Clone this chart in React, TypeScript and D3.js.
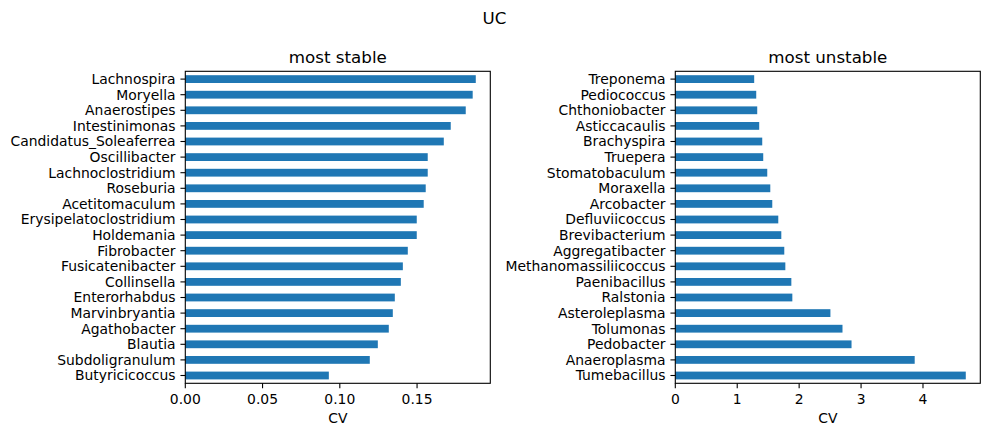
import React from 'react';
import * as d3 from 'd3';

// CV per genus, listed bottom-to-top as they are drawn
const stableGenera = [
  'Butyricicoccus', 'Subdoligranulum', 'Blautia', 'Agathobacter', 'Marvinbryantia',
  'Enterorhabdus', 'Collinsella', 'Fusicatenibacter', 'Fibrobacter', 'Holdemania',
  'Erysipelatoclostridium', 'Acetitomaculum', 'Roseburia', 'Lachnoclostridium',
  'Oscillibacter', 'Candidatus_Soleaferrea', 'Intestinimonas', 'Anaerostipes',
  'Moryella', 'Lachnospira',
];
const stableCV = [
  0.0929, 0.1194, 0.1246, 0.1317, 0.1343, 0.1356, 0.1395, 0.1408, 0.1440, 0.1498,
  0.1498, 0.1543, 0.1556, 0.1569, 0.1569, 0.1673, 0.1718, 0.1815, 0.1860, 0.1880,
];
const stableTicks = [0, 0.05, 0.1, 0.15];

const unstableGenera = [
  'Tumebacillus', 'Anaeroplasma', 'Pedobacter', 'Tolumonas', 'Asteroleplasma',
  'Ralstonia', 'Paenibacillus', 'Methanomassiliicoccus', 'Aggregatibacter',
  'Brevibacterium', 'Defluviicoccus', 'Arcobacter', 'Moraxella', 'Stomatobaculum',
  'Truepera', 'Brachyspira', 'Asticcacaulis', 'Chthoniobacter', 'Pediococcus',
  'Treponema',
];
const unstableCV = [
  4.691, 3.866, 2.846, 2.700, 2.505, 1.890, 1.874, 1.777, 1.760, 1.712,
  1.663, 1.566, 1.534, 1.485, 1.420, 1.404, 1.355, 1.323, 1.307, 1.274,
];
const unstableTicks = [0, 1, 2, 3, 4];

const W = 989;
const H = 436;
const top = 71.3;
const bottom = 383.3;
const blue = '#1f77b4';
const font = 'DejaVu Sans, sans-serif';

type PanelProps = {
  x0: number;
  x1: number;
  title: string;
  names: string[];
  values: number[];
  ticks: number[];
  fmt: (v: number) => string;
};

function Panel({ x0, x1, title, names, values, ticks, fmt }: PanelProps) {
  const max = d3.max(values) as number;
  const x = d3.scaleLinear().domain([0, max * 1.05]).range([x0, x1]);
  const y = d3.scaleLinear().domain([-0.5, names.length - 0.5]).range([bottom, top]);
  const bh = (y(0) - y(1)) * 0.5;
  const tl = 4.86;

  return (
    <g>
      {values.map((v, i) => (
        <rect key={names[i]} x={x(0)} y={y(i) - bh / 2} width={x(v) - x(0)} height={bh} fill={blue} />
      ))}
      {names.map((n, i) => (
        <g key={'t' + n}>
          <line x1={x0 - tl} x2={x0} y1={y(i)} y2={y(i)} stroke="#000" strokeWidth={1.1} />
          <text x={x0 - tl - 4.9} y={y(i)} dy="0.35em" textAnchor="end" fontSize={13.9} fontFamily={font}>
            {n}
          </text>
        </g>
      ))}
      {ticks.map((t) => (
        <g key={'x' + t}>
          <line x1={x(t)} x2={x(t)} y1={bottom} y2={bottom + tl} stroke="#000" strokeWidth={1.1} />
          <text x={x(t)} y={404} textAnchor="middle" fontSize={13.9} fontFamily={font}>
            {fmt(t)}
          </text>
        </g>
      ))}
      <rect x={x0} y={top} width={x1 - x0} height={bottom - top} fill="none" stroke="#000" strokeWidth={1.1} />
      <text x={(x0 + x1) / 2} y={423} textAnchor="middle" fontSize={13.9} fontFamily={font}>
        CV
      </text>
      <text x={(x0 + x1) / 2} y={63} textAnchor="middle" fontSize={16.7} fontFamily={font}>
        {title}
      </text>
    </g>
  );
}

export default function App() {
  return (
    <svg width={W} height={H} style={{ position: 'absolute', left: 0, top: 0, background: '#fff' }}>
      <rect width={W} height={H} fill="#fff" />
      <text x={494.5} y={24} textAnchor="middle" fontSize={16.7} fontFamily={font}>
        UC
      </text>
      <Panel
        x0={185.3}
        x1={490.3}
        title="most stable"
        names={stableGenera}
        values={stableCV}
        ticks={stableTicks}
        fmt={d3.format('.2f')}
      />
      <Panel
        x0={675.3}
        x1={980.3}
        title="most unstable"
        names={unstableGenera}
        values={unstableCV}
        ticks={unstableTicks}
        fmt={d3.format('d')}
      />
    </svg>
  );
}
